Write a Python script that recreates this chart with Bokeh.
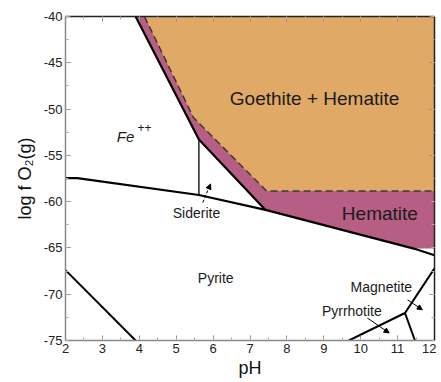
from bokeh.plotting import figure
from bokeh.models import LinearAxis, SingleIntervalTicker, Range1d, Arrow, NormalHead, CustomJSTickFormatter
from bokeh.core.properties import value
from bokeh.embed import file_html
from bokeh.resources import INLINE

# ---- data (pH, log fO2) ----
hem_x = [3.90, 5.615, 7.42, 11.44, 12.0, 12.0]
hem_y = [-40.0, -53.28, -60.89, -65.07, -65.07, -40.0]

goe_x = [4.14, 5.47, 7.45, 12.0, 12.0]
goe_y = [-40.0, -50.93, -58.86, -58.86, -40.0]

dash_x = [4.14, 5.47, 7.45, 12.0]
dash_y = [-40.0, -50.93, -58.86, -58.86]

upper_x = [3.90, 5.615, 7.42]
upper_y = [-40.0, -53.28, -60.89]

lower_x = [2.0, 2.32, 5.615, 7.42, 11.44, 12.0]
lower_y = [-57.46, -57.46, -59.28, -60.89, -65.07, -65.79]

sid_x = [5.615, 5.615]
sid_y = [-53.28, -59.28]

left_x = [2.0, 3.90]
left_y = [-67.4, -75.0]

pyr_x = [9.68, 11.20]
pyr_y = [-75.0, -72.03]
mag_x = [11.20, 12.0]
mag_y = [-72.03, -67.21]
po_x = [11.20, 11.47]
po_y = [-72.03, -75.0]

big_labels = ["Goethite + Hematite", "Hematite"]
big_lx = [8.75, 10.52]
big_ly = [-48.9, -61.32]

small_labels = ["Siderite", "Pyrite", "Magnetite", "Pyrrhotite"]
small_lx = [5.55, 6.07, 10.56, 9.76]
small_ly = [-61.2, -68.2, -69.25, -71.85]

fe_x = [3.627]
fe_y = [-52.96]

# arrows: (x_start, y_start, x_end, y_end)
arrow_sid = [5.72, -60.1, 5.93, -58.1]
arrow_mag = [11.27, -70.61, 11.67, -71.68]
arrow_po = [10.18, -72.57, 10.77, -74.18]

x_range = [2, 12]
y_range = [-75, -40]

FONT = value("Liberation Sans")

p = figure(width=436, height=380, output_backend="svg", toolbar_location=None,
           x_range=Range1d(*x_range), y_range=Range1d(*y_range),
           min_border_left=65, min_border_top=16, min_border_right=2, min_border_bottom=0)
p.grid.visible = False
p.outline_line_color = None
p.background_fill_color = "white"

# fills
p.patch(hem_x, hem_y, fill_color="#B65E84", line_color=None)
p.patch(goe_x, goe_y, fill_color="#E0AA66", line_color=None)

# boundaries
p.line(dash_x, dash_y, line_color="#3a3a3a", line_width=1.5, line_dash="7 4")
p.line(upper_x, upper_y, line_color="black", line_width=2.2)
p.line(lower_x, lower_y, line_color="black", line_width=2.2)
p.line(sid_x, sid_y, line_color="black", line_width=1.3)
p.line(left_x, left_y, line_color="black", line_width=2.0)
p.line(pyr_x, pyr_y, line_color="black", line_width=2.0)
p.line(mag_x, mag_y, line_color="black", line_width=2.0)
p.line(po_x, po_y, line_color="black", line_width=2.0)

# arrows
p.add_layout(Arrow(x_start=arrow_sid[0], y_start=arrow_sid[1], x_end=arrow_sid[2], y_end=arrow_sid[3],
                   line_width=1, line_dash="3 2", line_color="black",
                   end=NormalHead(size=5, fill_color="black", line_color="black")))
p.add_layout(Arrow(x_start=arrow_mag[0], y_start=arrow_mag[1], x_end=arrow_mag[2], y_end=arrow_mag[3],
                   line_width=1, line_color="black",
                   end=NormalHead(size=5, fill_color="black", line_color="black")))
p.add_layout(Arrow(x_start=arrow_po[0], y_start=arrow_po[1], x_end=arrow_po[2], y_end=arrow_po[3],
                   line_width=1, line_color="black",
                   end=NormalHead(size=5, fill_color="black", line_color="black")))

# labels
p.text(big_lx, big_ly, text=big_labels, text_font=FONT, text_font_size="19px",
       text_align="center", text_baseline="middle", text_color="#1a1a1a")
p.text(small_lx, small_ly, text=small_labels, text_font=FONT, text_font_size="14px",
       text_align="center", text_baseline="middle", text_color="#1a1a1a")
p.text(fe_x, fe_y, text=["Fe"], text_font=FONT, text_font_size="15px", text_font_style="italic",
       text_align="center", text_baseline="middle", text_color="#1a1a1a")
p.text(fe_x, fe_y, text=["++"], text_font=FONT, text_font_size="12px",
       text_align="left", text_baseline="middle", text_color="#1a1a1a",
       x_offset=12, y_offset=-9)

# axes
def style(ax, labels=True):
    ax.major_tick_in = 5
    ax.major_tick_out = 0
    ax.minor_tick_in = 3
    ax.minor_tick_out = 0
    ax.major_tick_line_color = "#888888"
    ax.minor_tick_line_color = "#aaaaaa"
    if labels:
        ax.formatter = CustomJSTickFormatter(code="return String(tick);")
        ax.major_label_text_font = "Liberation Sans"
        ax.major_label_text_font_size = "13px"
        ax.major_label_text_color = "#222222"
        ax.axis_label_text_font = "Liberation Sans"
        ax.axis_label_text_font_size = "18px"
        ax.axis_label_text_font_style = "normal"
        ax.axis_label_text_color = "#111111"

xa = p.xaxis[0]
xa.ticker = SingleIntervalTicker(interval=1, num_minor_ticks=2)
xa.axis_label = "pH"
xa.axis_line_color = "#888888"
xa.axis_line_width = 1.5
style(xa)
xa.major_label_standoff = 3
xa.axis_label_standoff = 2

ya = p.yaxis[0]
ya.ticker = SingleIntervalTicker(interval=5, num_minor_ticks=2)
ya.axis_label = "log f O₂(g)"
ya.axis_line_color = "#888888"
ya.axis_line_width = 1.5
style(ya)
ya.major_label_standoff = 3
ya.axis_label_standoff = 6

for side, interval in (("above", 1), ("right", 5)):
    ax = LinearAxis(ticker=SingleIntervalTicker(interval=interval, num_minor_ticks=2))
    style(ax, labels=False)
    ax.major_label_text_font_size = "1px"
    ax.major_label_text_color = None
    ax.major_label_standoff = 0
    ax.axis_line_color = "#222222"
    ax.axis_line_width = 1.5
    p.add_layout(ax, side)

open("out.html", "w").write(file_html(p, INLINE))
